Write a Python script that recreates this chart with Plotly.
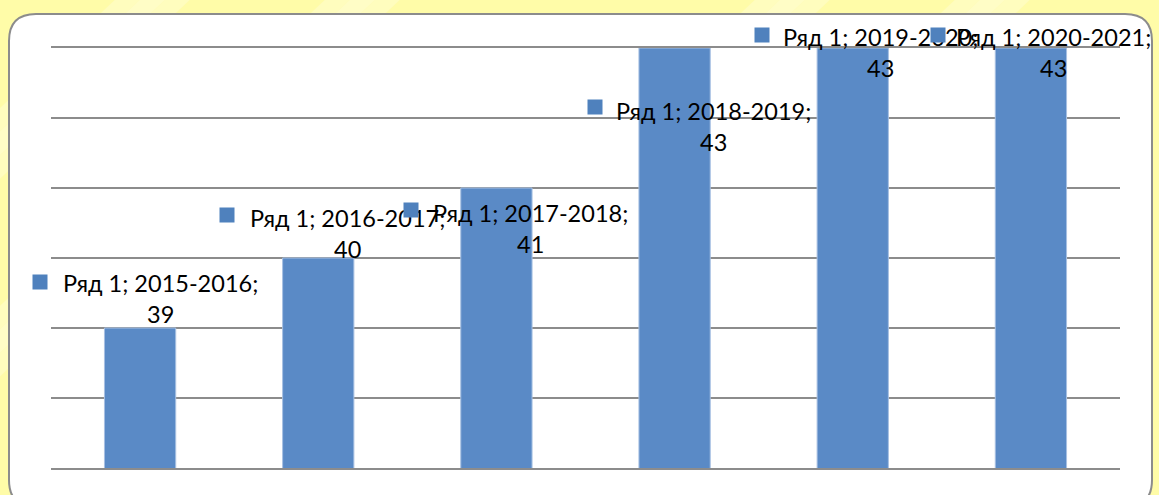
import plotly.graph_objects as go

# ---- data ----
categories = ["2015-2016", "2016-2017", "2017-2018", "2018-2019", "2019-2020", "2020-2021"]
values = [39, 40, 41, 43, 43, 43]
series_name = "Ряд 1"

# ---- style / label placement (pixel offsets from each bar's top-centre) ----
text_dx = [20, 29, 34, 39, 28, 23]
text_dy = [30, 25, -40, -78, -4, -4]
sq_dx = [-100, -91, -85, -80, -91, -93]
sq_dy = [46, 43, -22, -59, 13, 13]

W, H = 1159, 495
ML, MR, MT, MB = 51, 39, 48, 27
PW, PH = W - ML - MR, H - MT - MB

def px(x):
    return (x - ML) / PW

def py(y):
    return (H - MB - y) / PH

fig = go.Figure()
fig.add_trace(go.Bar(
    x=categories, y=values, name=series_name,
    marker=dict(color="#5A8AC6", line=dict(color="#A7C0E2", width=1)),
    hoverinfo="skip",
))

# rounded white panel
x0, x1, y0, y1, r = 9, 1152, 14, 507, 27
path = (f"M {px(x0+r)},{py(y0)} L {px(x1-r)},{py(y0)} Q {px(x1)},{py(y0)} {px(x1)},{py(y0+r)} "
        f"L {px(x1)},{py(y1-r)} Q {px(x1)},{py(y1)} {px(x1-r)},{py(y1)} "
        f"L {px(x0+r)},{py(y1)} Q {px(x0)},{py(y1)} {px(x0)},{py(y1-r)} "
        f"L {px(x0)},{py(y0+r)} Q {px(x0)},{py(y0)} {px(x0+r)},{py(y0)} Z")
shapes = [dict(type="path", xref="paper", yref="paper", path=path,
               fillcolor="white", line=dict(color="#8C8C8C", width=2), layer="below")]

# soft pale diagonal bands on the yellow backdrop
for sx in [120, 330, 760, 960]:
    for k, a in enumerate([0.25, 0.35, 0.25]):
        ox = sx + k * 25
        shapes.insert(0, dict(type="path", xref="paper", yref="paper",
                              path=f"M {px(ox)},{py(-5)} L {px(ox+25)},{py(-5)} L {px(ox-575)},{py(560)} L {px(ox-600)},{py(560)} Z",
                              fillcolor=f"rgba(255,255,255,{a})", line=dict(width=0), layer="below"))

annotations = []
for i, (c, v) in enumerate(zip(categories, values)):
    annotations.append(dict(
        x=c, y=v, xref="x", yref="y",
        text=f"{series_name}; {c};<br>{v}",
        showarrow=False, align="center", xanchor="center", yanchor="middle",
        xshift=text_dx[i], yshift=text_dy[i],
        font=dict(family="Lato, Liberation Sans, sans-serif", size=23.5, color="black"),
    ))
    annotations.append(dict(
        x=c, y=v, xref="x", yref="y", text=" ",
        showarrow=False, xanchor="center", yanchor="middle",
        xshift=sq_dx[i], yshift=sq_dy[i],
        width=14, height=14, bgcolor="#4F81BD", borderpad=0,
        font=dict(size=1),
    ))

fig.update_layout(
    width=W, height=H,
    margin=dict(l=ML, r=MR, t=MT, b=MB, pad=0),
    paper_bgcolor="#FFFCA8",
    plot_bgcolor="rgba(0,0,0,0)",
    showlegend=False,
    bargap=0.6,
    shapes=shapes,
    annotations=annotations,
    xaxis=dict(range=[-0.5, 5.5], autorange=False,
               showticklabels=False, showgrid=False, zeroline=False, ticks="",
               showline=True, mirror=True, linecolor="#8C8C8C", linewidth=2,
               layer="below traces", fixedrange=True),
    yaxis=dict(range=[37, 43], dtick=1, tick0=37, showticklabels=False, ticks="",
               showgrid=True, gridcolor="#8C8C8C", gridwidth=2, zeroline=False, showline=False),
)

fig.write_html("out.html", config={"displayModeBar": False},
               post_script="document.body.style.margin='0';document.body.style.padding='0';")
